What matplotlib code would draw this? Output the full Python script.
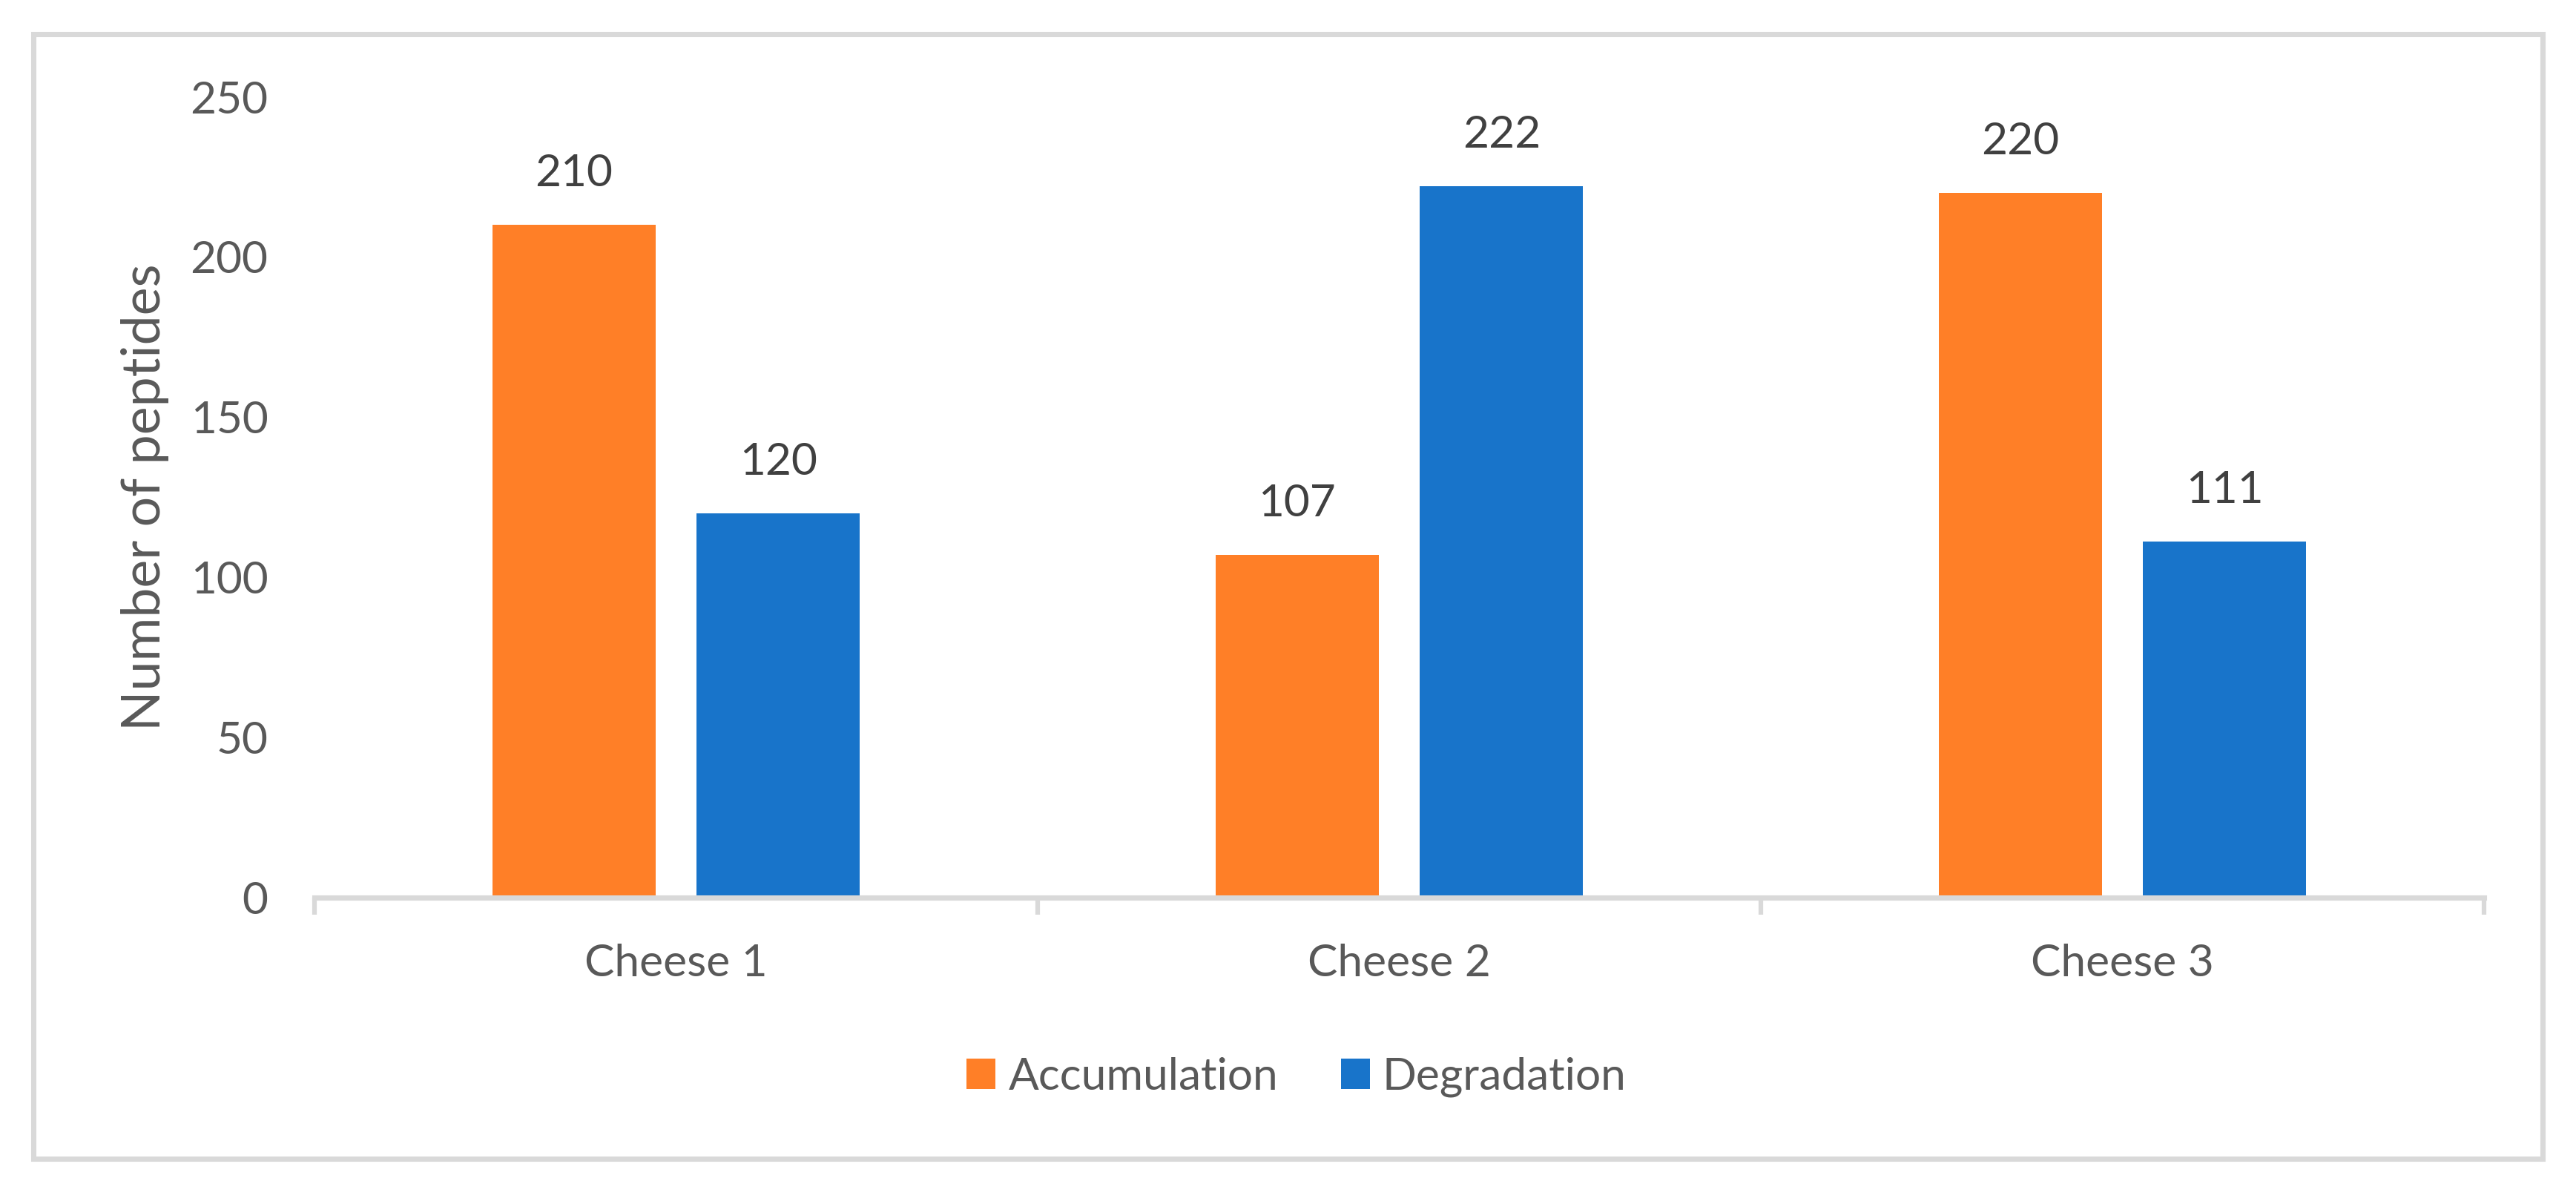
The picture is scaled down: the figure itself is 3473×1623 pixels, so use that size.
import numpy as np
import matplotlib.pyplot as plt
from matplotlib.patches import Rectangle

# Data
cheeses = ["Cheese 1", "Cheese 2", "Cheese 3"]
accumulation = [210, 107, 220]
degradation = [120, 222, 111]
y_ticks = [0, 50, 100, 150, 200, 250]

# Colours
orange = "#FF7F27"
blue = "#1874CA"
grey_text = "#595959"
dark_text = "#404040"
grey_line = "#D9D9D9"

plt.rcParams["font.family"] = ["Lato", "DejaVu Sans"]

dpi = 300
fig = plt.figure(figsize = (3473 / dpi, 1623 / dpi), dpi = dpi)
ax = fig.add_axes([0.12208, 0.25477, 0.84222, 0.66482])

# Bars
x = np.arange(len(cheeses))
width = 0.2256
offset = 0.1415
bars_acc = ax.bar(x - offset, accumulation, width, color = orange, label = "Accumulation")
bars_deg = ax.bar(x + offset, degradation, width, color = blue, label = "Degradation")

# Value labels above bars
for bars in [bars_acc, bars_deg]:
    for bar in bars:
        ax.annotate(f"{int(bar.get_height())}",
                    xy = (bar.get_x() + bar.get_width() / 2, bar.get_height()),
                    xytext = (0, 12.5), textcoords = "offset points",
                    ha = "center", va = "baseline", fontsize = 14.5, color = dark_text)

# Axes styling
ax.set_xlim(-0.5, 2.5)
ax.set_ylim(0, 250)
ax.set_yticks(y_ticks)
ax.set_xticks(x)
ax.set_xticklabels(cheeses)
ax.set_xticks([-0.5, 0.5, 1.5, 2.5], minor = True)
ax.tick_params(axis = "y", length = 0, pad = 15, labelsize = 14.5, labelcolor = grey_text)
ax.tick_params(axis = "x", which = "major", length = 0, pad = 15, labelsize = 14.5, labelcolor = grey_text)
ax.tick_params(axis = "x", which = "minor", length = 5.5, width = 1.5, color = grey_line)

for side in ["top", "right", "left"]:
    ax.spines[side].set_visible(False)
ax.spines["bottom"].set_color(grey_line)
ax.spines["bottom"].set_linewidth(1.7)

ax.set_ylabel("Number of peptides", fontsize = 17.2, color = grey_text)
ax.yaxis.set_label_coords(-0.067, 0.5)

# Legend below the plot
fig.legend(handles = [bars_acc, bars_deg], loc = "center", bbox_to_anchor = (0.5033, 0.1054),
           ncol = 2, frameon = False, fontsize = 14.5, labelcolor = grey_text,
           handlelength = 0.65, handleheight = 0.68, handletextpad = 0.28, columnspacing = 1.4)

# Outer grey frame around the whole chart
fig.patches.append(Rectangle((0.01296, 0.03758), 0.9741, 0.9341, transform = fig.transFigure,
                             fill = False, edgecolor = grey_line, linewidth = 1.7))

fig.savefig("out.png", dpi = dpi)
